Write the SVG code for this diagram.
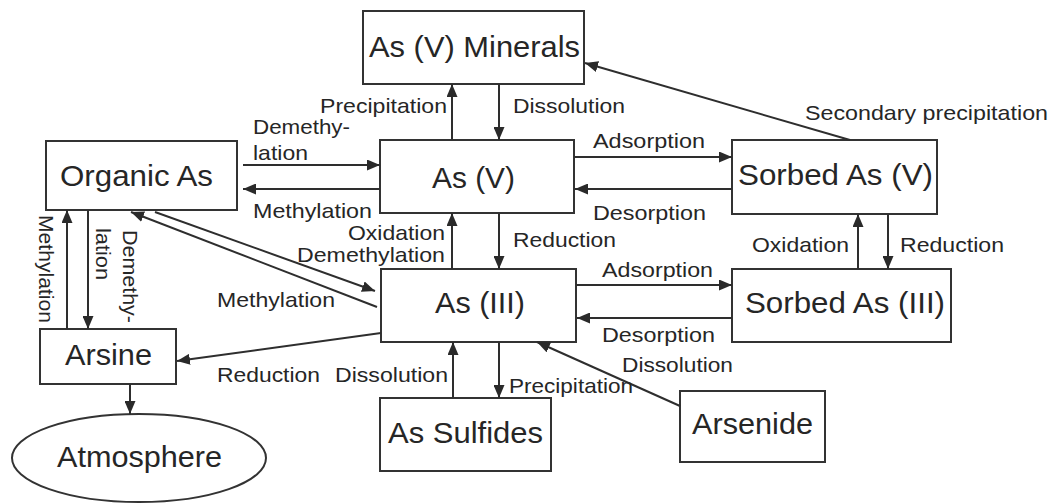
<svg xmlns="http://www.w3.org/2000/svg" width="1053" height="503" viewBox="0 0 1053 503">
<defs>
<marker id="ah" markerUnits="userSpaceOnUse" markerWidth="13" markerHeight="11" refX="13" refY="5.5" orient="auto">
<path d="M0,0 L13,5.5 L0,11 z" fill="#2a2a2a"/>
</marker>
<style>
.box{fill:#fff;stroke:#333;stroke-width:2}
.bl{font-family:"Liberation Sans",Arial,sans-serif;font-size:30px;fill:#262626}
.lb{font-family:"Liberation Sans",Arial,sans-serif;font-size:21px;fill:#262626}
.c line{stroke:#2e2e2e;stroke-width:2;marker-end:url(#ah)}
</style>
</defs>
<rect width="1053" height="503" fill="#fff"/>
<g id="minerals"><rect class="box" x="363" y="11" width="221" height="73"/><text class="bl" x="369" y="57" textLength="211" lengthAdjust="spacingAndGlyphs">As (V) Minerals</text></g>
<g id="asv"><rect class="box" x="380" y="140" width="194" height="73"/><text class="bl" x="432" y="188" textLength="83" lengthAdjust="spacingAndGlyphs">As (V)</text></g>
<g id="organic"><rect class="box" x="46" y="141" width="191" height="69"/><text class="bl" x="60" y="186" textLength="153" lengthAdjust="spacingAndGlyphs">Organic As</text></g>
<g id="sorbedv"><rect class="box" x="732" y="140" width="205" height="74"/><text class="bl" x="738" y="185" textLength="195" lengthAdjust="spacingAndGlyphs">Sorbed As (V)</text></g>
<g id="asiii"><rect class="box" x="381" y="269" width="195" height="73"/><text class="bl" x="435" y="313" textLength="90" lengthAdjust="spacingAndGlyphs">As (III)</text></g>
<g id="sorbediii"><rect class="box" x="732" y="269" width="219" height="73"/><text class="bl" x="745" y="313" textLength="200" lengthAdjust="spacingAndGlyphs">Sorbed As (III)</text></g>
<g id="arsine"><rect class="box" x="40" y="329" width="136" height="55"/><text class="bl" x="65" y="365" textLength="87" lengthAdjust="spacingAndGlyphs">Arsine</text></g>
<g id="atmosphere"><ellipse class="box" cx="139" cy="458" rx="127" ry="44"/><text class="bl" x="57" y="467" textLength="165" lengthAdjust="spacingAndGlyphs">Atmosphere</text></g>
<g id="sulfides"><rect class="box" x="380" y="398" width="171" height="73"/><text class="bl" x="388" y="443" textLength="155" lengthAdjust="spacingAndGlyphs">As Sulfides</text></g>
<g id="arsenide"><rect class="box" x="680" y="391" width="145" height="71"/><text class="bl" x="692" y="434" textLength="121" lengthAdjust="spacingAndGlyphs">Arsenide</text></g>
<g id="connectors" class="c">
<line x1="452" y1="140" x2="452" y2="84"/>
<line x1="499" y1="84" x2="499" y2="140"/>
<line x1="243" y1="165" x2="380" y2="165"/>
<line x1="380" y1="189" x2="243" y2="189"/>
<line x1="574" y1="157" x2="732" y2="157"/>
<line x1="732" y1="189" x2="575" y2="189"/>
<line x1="850" y1="140" x2="585" y2="63"/>
<line x1="452" y1="269" x2="452" y2="213"/>
<line x1="499" y1="213" x2="499" y2="269"/>
<line x1="155" y1="212" x2="375" y2="291"/>
<line x1="377" y1="307" x2="131" y2="212"/>
<line x1="67" y1="329" x2="67" y2="210"/>
<line x1="88" y1="210" x2="88" y2="329"/>
<line x1="381" y1="333" x2="177" y2="361"/>
<line x1="130" y1="384" x2="130" y2="414"/>
<line x1="576" y1="285" x2="732" y2="285"/>
<line x1="732" y1="318" x2="577" y2="318"/>
<line x1="858" y1="269" x2="858" y2="214"/>
<line x1="888" y1="214" x2="888" y2="269"/>
<line x1="453" y1="398" x2="453" y2="342"/>
<line x1="499" y1="342" x2="499" y2="398"/>
<line x1="680" y1="406" x2="537" y2="342"/>
</g>
<g id="labels">
<text class="lb" x="320" y="113" textLength="127" lengthAdjust="spacingAndGlyphs">Precipitation</text>
<text class="lb" x="513" y="113" textLength="112" lengthAdjust="spacingAndGlyphs">Dissolution</text>
<text class="lb" x="253" y="134" textLength="97" lengthAdjust="spacingAndGlyphs">Demethy-</text>
<text class="lb" x="253" y="160" textLength="55" lengthAdjust="spacingAndGlyphs">lation</text>
<text class="lb" x="253" y="218" textLength="119" lengthAdjust="spacingAndGlyphs">Methylation</text>
<text class="lb" x="593" y="148" textLength="112" lengthAdjust="spacingAndGlyphs">Adsorption</text>
<text class="lb" x="593" y="220" textLength="113" lengthAdjust="spacingAndGlyphs">Desorption</text>
<text class="lb" x="805" y="120" textLength="243" lengthAdjust="spacingAndGlyphs">Secondary precipitation</text>
<text class="lb" x="348" y="240" textLength="97" lengthAdjust="spacingAndGlyphs">Oxidation</text>
<text class="lb" x="297" y="262" textLength="148" lengthAdjust="spacingAndGlyphs">Demethylation</text>
<text class="lb" x="513" y="247" textLength="103" lengthAdjust="spacingAndGlyphs">Reduction</text>
<text class="lb" x="217" y="307" textLength="118" lengthAdjust="spacingAndGlyphs">Methylation</text>
<text class="lb" x="752" y="252" textLength="97" lengthAdjust="spacingAndGlyphs">Oxidation</text>
<text class="lb" x="900" y="252" textLength="104" lengthAdjust="spacingAndGlyphs">Reduction</text>
<text class="lb" x="602" y="277" textLength="111" lengthAdjust="spacingAndGlyphs">Adsorption</text>
<text class="lb" x="602" y="342" textLength="113" lengthAdjust="spacingAndGlyphs">Desorption</text>
<text class="lb" x="622" y="372" textLength="111" lengthAdjust="spacingAndGlyphs">Dissolution</text>
<text class="lb" x="217" y="382" textLength="103" lengthAdjust="spacingAndGlyphs">Reduction</text>
<text class="lb" x="335" y="382" textLength="113" lengthAdjust="spacingAndGlyphs">Dissolution</text>
<text class="lb" x="509" y="393" textLength="124" lengthAdjust="spacingAndGlyphs">Precipitation</text>
<text class="lb" transform="translate(39,215) rotate(90)" textLength="108" lengthAdjust="spacingAndGlyphs">Methylation</text>
<text class="lb" transform="translate(123,230) rotate(90)" textLength="93" lengthAdjust="spacingAndGlyphs">Demethy-</text>
<text class="lb" transform="translate(96,228) rotate(90)" textLength="52" lengthAdjust="spacingAndGlyphs">lation</text>
</g>
</svg>
